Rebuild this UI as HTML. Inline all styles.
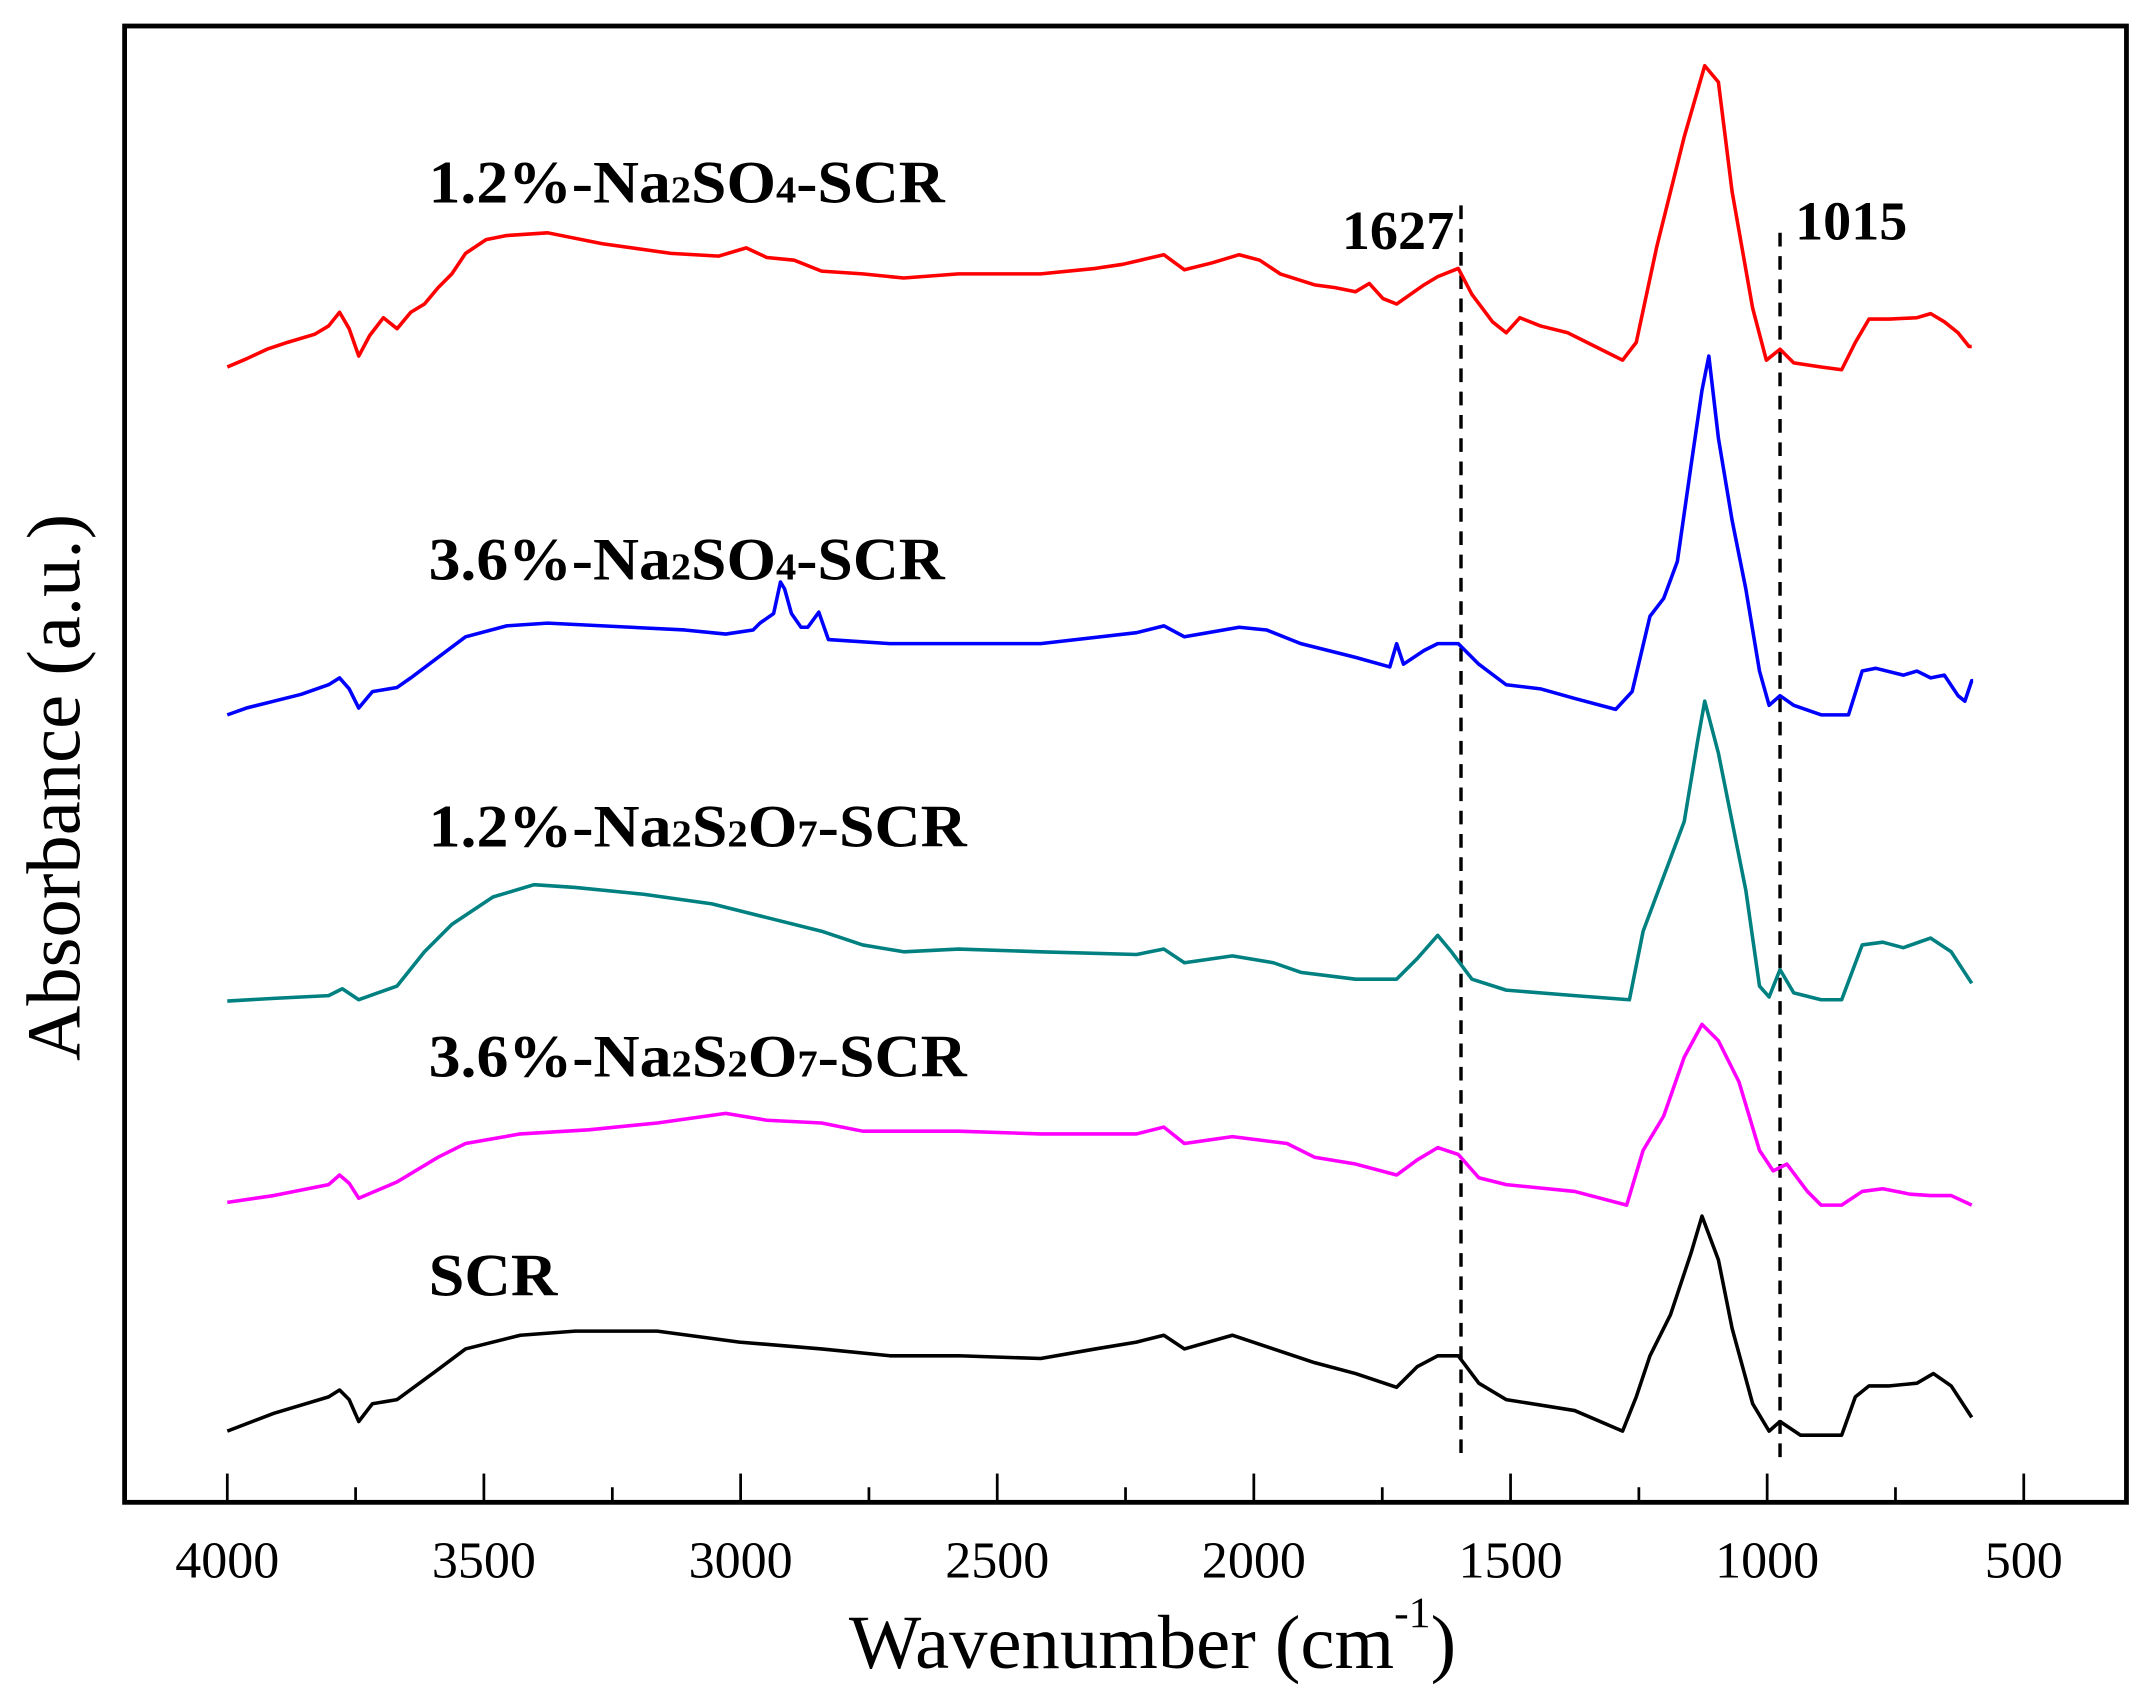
<!DOCTYPE html>
<html><head><meta charset="utf-8"><style>
html,body{margin:0;padding:0;background:#fff}
svg{display:block}
text{font-family:"Liberation Serif",serif}
.lab{font-weight:bold;font-size:44px}
.sub{font-size:28px}
</style></head><body>
<svg width="2147" height="1705" viewBox="0 0 1568 1245" preserveAspectRatio="none" xmlns="http://www.w3.org/2000/svg">
<rect x="91" y="19" width="1462" height="1078" fill="none" stroke="#000" stroke-width="3.5"/>
<g stroke="#000" stroke-width="2">
<line x1="166" y1="1097" x2="166" y2="1076"/><line x1="353.4" y1="1097" x2="353.4" y2="1076"/><line x1="540.9" y1="1097" x2="540.9" y2="1076"/><line x1="728.3" y1="1097" x2="728.3" y2="1076"/><line x1="915.7" y1="1097" x2="915.7" y2="1076"/><line x1="1103.2" y1="1097" x2="1103.2" y2="1076"/><line x1="1290.6" y1="1097" x2="1290.6" y2="1076"/><line x1="1478" y1="1097" x2="1478" y2="1076"/>
<line x1="259.7" y1="1097" x2="259.7" y2="1086"/><line x1="447.2" y1="1097" x2="447.2" y2="1086"/><line x1="634.6" y1="1097" x2="634.6" y2="1086"/><line x1="822" y1="1097" x2="822" y2="1086"/><line x1="1009.5" y1="1097" x2="1009.5" y2="1086"/><line x1="1196.9" y1="1097" x2="1196.9" y2="1086"/><line x1="1384.3" y1="1097" x2="1384.3" y2="1086"/>
</g>
<g font-size="38" text-anchor="middle">
<text x="166" y="1152">4000</text><text x="353.4" y="1152">3500</text><text x="540.9" y="1152">3000</text><text x="728.3" y="1152">2500</text><text x="915.7" y="1152">2000</text><text x="1103.2" y="1152">1500</text><text x="1290.6" y="1152">1000</text><text x="1478" y="1152">500</text>
</g>
<text x="620" y="1218" font-size="56">Wavenumber (cm<tspan font-size="32" dy="-30">-1</tspan><tspan dy="30">)</tspan></text>
<text transform="translate(58,575) rotate(-90)" font-size="56" text-anchor="middle">Absorbance (a.u.)</text>
<g stroke="#000" stroke-width="2.5" stroke-dasharray="10,7">
<line x1="1067" y1="150" x2="1067" y2="1065"/><line x1="1300" y1="170" x2="1300" y2="1065"/>
</g>
<text x="980" y="182" font-weight="bold" font-size="40" textLength="82" lengthAdjust="spacingAndGlyphs">1627</text>
<text x="1311" y="175" font-weight="bold" font-size="40" textLength="82" lengthAdjust="spacingAndGlyphs">1015</text>
<text x="313" y="148" class="lab" textLength="377" lengthAdjust="spacingAndGlyphs">1.2%-Na<tspan class="sub">2</tspan>SO<tspan class="sub">4</tspan>-SCR</text>
<text x="313" y="423" class="lab" textLength="377" lengthAdjust="spacingAndGlyphs">3.6%-Na<tspan class="sub">2</tspan>SO<tspan class="sub">4</tspan>-SCR</text>
<text x="313" y="618" class="lab" textLength="393" lengthAdjust="spacingAndGlyphs">1.2%-Na<tspan class="sub">2</tspan>S<tspan class="sub">2</tspan>O<tspan class="sub">7</tspan>-SCR</text>
<text x="313" y="786" class="lab" textLength="393" lengthAdjust="spacingAndGlyphs">3.6%-Na<tspan class="sub">2</tspan>S<tspan class="sub">2</tspan>O<tspan class="sub">7</tspan>-SCR</text>
<text x="313" y="946" class="lab" textLength="94" lengthAdjust="spacingAndGlyphs">SCR</text>
<g fill="none" stroke-width="2.6" stroke-linejoin="round">
<polyline stroke="#ff0000" points="166,268 180,262 195,255 210,250 230,244 240,238 248,228 255,240 262,260 270,245 280,232 290,240 300,228 310,222 320,210 330,200 340,185 355,175 370,172 400,170 440,178 490,185 525,187 545,181 560,188 580,190 600,198 630,200 660,203 700,200 760,200 800,196 820,193 850,186 865,197 885,192 905,186 920,190 935,200 960,208 975,210 990,213 1000,207 1010,218 1020,222 1030,215 1040,208 1050,202 1065,196 1075,215 1090,235 1100,243 1110,232 1125,238 1145,243 1165,253 1185,263 1195,250 1210,180 1230,100 1245,48 1255,60 1265,140 1280,225 1290,263 1300,255 1310,265 1330,268 1345,270 1355,250 1365,233 1380,233 1400,232 1410,229 1420,235 1430,243 1438,253 1440,253"/>
<polyline stroke="#0000ff" points="166,522 180,517 200,512 220,507 240,500 248,495 255,503 262,517 272,505 290,502 300,495 320,480 340,465 370,457 400,455 500,460 530,463 550,460 555,455 565,448 570,425 573,430 578,448 585,458 590,458 598,447 605,467 650,470 760,470 830,462 850,457 865,465 905,458 925,460 950,470 990,480 1015,487 1020,470 1025,485 1040,475 1050,470 1065,470 1080,485 1100,500 1125,503 1150,510 1180,518 1192,505 1205,450 1215,437 1225,410 1235,340 1243,285 1248,260 1255,320 1265,380 1275,430 1285,490 1292,515 1300,508 1310,515 1330,522 1350,522 1360,490 1370,488 1390,493 1400,490 1410,495 1420,493 1430,508 1435,512 1440,497 1441,497"/>
<polyline stroke="#008080" points="166,731 200,729 240,727 250,722 262,730 290,720 310,695 330,675 360,655 390,646 420,648 470,653 520,660 560,670 600,680 630,690 660,695 700,693 760,695 830,697 850,693 865,703 900,698 930,703 950,710 990,715 1020,715 1035,700 1050,683 1060,695 1075,715 1100,723 1150,727 1190,730 1200,680 1215,640 1230,600 1240,540 1245,512 1255,550 1265,600 1275,650 1285,720 1292,728 1300,708 1310,725 1330,730 1345,730 1360,690 1375,688 1390,692 1410,685 1425,695 1440,718"/>
<polyline stroke="#ff00ff" points="166,878 200,873 240,865 248,858 255,864 262,875 290,863 320,845 340,835 380,828 430,825 480,820 530,813 560,818 600,820 630,826 700,826 760,828 830,828 850,823 865,835 900,830 940,835 960,845 990,850 1020,858 1035,847 1050,838 1065,843 1080,860 1100,865 1150,870 1188,880 1200,840 1215,815 1230,772 1243,748 1255,760 1270,790 1285,840 1295,855 1305,850 1320,870 1330,880 1345,880 1360,870 1375,868 1395,872 1410,873 1425,873 1440,880"/>
<polyline stroke="#000000" points="166,1045 200,1032 240,1020 248,1015 255,1022 262,1038 272,1025 290,1022 320,1000 340,985 380,975 420,972 480,972 540,980 600,985 650,990 700,990 760,992 800,985 830,980 850,975 865,985 900,975 930,985 960,995 990,1003 1020,1013 1035,998 1050,990 1065,990 1080,1010 1100,1022 1150,1030 1185,1045 1195,1020 1205,990 1220,960 1235,915 1243,888 1255,920 1265,970 1280,1025 1292,1045 1300,1038 1315,1048 1345,1048 1355,1020 1365,1012 1380,1012 1400,1010 1412,1003 1425,1012 1440,1035"/>
</g>
</svg>
</body></html>
